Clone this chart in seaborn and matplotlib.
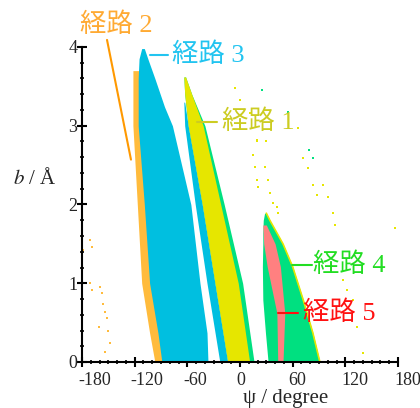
'''
    psi-b map of the five reaction paths
'''
import matplotlib
matplotlib.use('Agg')
import matplotlib.pyplot as plt
import seaborn as sns
import pandas as pd
from matplotlib.ticker import MultipleLocator
from matplotlib.transforms import ScaledTranslation

# ---- region outlines (psi at the left / right edge for each b) ----
# path 2 (orange stripe)
b_p2 = [0, 0.37, 1, 2, 3, 3.7]
left_p2 = [-97, -103, -112, -117, -122, -122]
right_p2 = [-86, -90, -100, -105, -112, -114]

# path 3 (cyan, main lobe)
b_p3 = [0, 0.37, 1, 2, 3, 3.24, 3.6, 3.85, 3.98]
left_p3 = [-89, -93.5, -103, -109, -116, -116, -116, -115, -112]
right_p3 = [-36.5, -37.6, -45.6, -56, -77, -86, -97, -105, -109]

# path 3 (cyan, thin strip next to path 1)
b_p3s = [0, 1, 2, 3, 3.3]
left_p3s = [-23, -37.6, -51, -63, -64]
right_p3s = [-14, -28.5, -43, -59, -63]

# path 1 (yellow)
b_p1 = [0, 1, 2, 3, 3.4, 3.62]
left_p1 = [-14, -28.5, -43, -59, -63, -64]
right_p1 = [11, -2, -22, -42, -55, -62]
fringe_p1 = [16, 3, -18, -40, -55, -62]

# path 4 (green)
b_p4 = [0, 0.37, 0.79, 1.21, 1.5, 1.64, 1.8, 1.89]
left_p4 = [32, 29, 26, 25.5, 26, 26, 26.5, 28]
right_p4 = [91, 83, 72, 60, 49, 42, 34, 30]

# path 5 (pink)
b_p5 = [0, 0.62, 1.21, 1.5, 1.74]
left_p5 = [43, 42, 31, 27, 26]
right_p5 = [49, 51, 46, 40, 30]

# ---- scattered points ----
psi_yel = [-5.7, 0, 11.4, 19.5, 19.5, 15, 17, 19.5, 20.5, 32, 34, 37.6, 28.5, 29.6,
           66, 71.8, 77.5, 83, 87.7, 94.5, 100, 106, 108, 117, 122, 129, 133, 140,
           42, 43, 176.6]
b_yel = [3.48, 3.33, 3.16, 2.82, 2.8, 2.63, 2.48, 2.31, 2.22, 2.31, 2.15, 2.02, 2.48, 2.8,
         2.97, 2.59, 2.46, 2.25, 2.12, 2.25, 2.1, 1.89, 1.74, 1.04, 0.91, 0.79, 0.44, 0.11,
         1.97, 1.89, 1.70]
psi_grn = [25, 54.7, 78.6, 83]
b_grn = [3.45, 3.17, 2.69, 2.59]
psi_org = [-179, -171, -169, -171, -169, -159.5, -157, -156, -154, -151.5, -150, -148,
           -160.6, -154]
b_org = [1.42, 1.55, 1.46, 1.0, 0.91, 0.95, 0.87, 0.74, 0.64, 0.56, 0.4, 0.24, 0.45, 0.13]

# ---- labels ----
labels = ['経路 1', '経路 2', '経路 3', '経路 4', '経路 5']
label_psi = [-20.5, -182, -77.5, 83, 72]
label_b = [3.05, 4.28, 3.9, 1.23, 0.62]
label_col = ['#cccc22', '#ffaa33', '#22c4f0', '#22dd22', '#ff1111']
line_psi = [(-49, -26), (-151.5, -124.2), (-102.5, -82), (59, 82), (43, 66)]
line_b = [(3.05, 3.05), (4.09, 2.57), (3.9, 3.9), (1.23, 1.23), (0.62, 0.62)]
line_col = ['#cccc22', '#ff9900', '#22c4f0', '#22dd22', '#ff1111']

ORANGE = '#ffbb3c'
CYAN = '#00bfe0'
YELLOW = '#e6e600'
GREEN = '#00e080'
PINK = '#ff8080'

sns.set_style('ticks')
plt.rcParams['font.family'] = ['Liberation Serif', 'Noto Sans CJK JP']
plt.rcParams['mathtext.fontset'] = 'stix'
plt.rcParams['axes.unicode_minus'] = False

fig = plt.figure(figsize=(4.2, 4.08), dpi=100)
ax = fig.add_axes([82 / 420, 46 / 408, 316 / 420, 315 / 408])

# regions
ax.fill_betweenx(b_p2, left_p2, right_p2, color=ORANGE, lw=0)
ax.fill_betweenx(b_p3, left_p3, right_p3, color=CYAN, lw=0)
ax.fill_betweenx(b_p1, left_p1, fringe_p1, color=GREEN, lw=0)
ax.fill_betweenx(b_p3s, left_p3s, right_p3s, color=CYAN, lw=0)
ax.fill_betweenx(b_p1, left_p1, right_p1, color=YELLOW, lw=0)
ax.fill_betweenx(b_p4, left_p4, right_p4, color=GREEN, lw=0)
ax.plot(right_p4, b_p4, color=YELLOW, lw=1.2)
ax.fill_betweenx(b_p5, left_p5, right_p5, color=PINK, lw=0)

# stray points
df_y = pd.DataFrame({'psi': psi_yel, 'b': b_yel})
df_g = pd.DataFrame({'psi': psi_grn, 'b': b_grn})
df_o = pd.DataFrame({'psi': psi_org, 'b': b_org})
sns.scatterplot(data=df_y, x='psi', y='b', color=YELLOW, s=4, marker='s', linewidth=0, ax=ax)
sns.scatterplot(data=df_g, x='psi', y='b', color=GREEN, s=4, marker='s', linewidth=0, ax=ax)
sns.scatterplot(data=df_o, x='psi', y='b', color=ORANGE, s=2.5, marker='s', linewidth=0, ax=ax)

# path labels with leader lines
for i in range(len(labels)):
    ax.plot(line_psi[i], line_b[i], color=line_col[i], lw=1.5, clip_on=False)
    ax.text(label_psi[i], label_b[i], labels[i], color=label_col[i], fontsize=19,
            ha='left', va='center', clip_on=False)

ax.set_xlim(-180, 180)
ax.set_ylim(0, 4)
ax.set_xticks([-180, -120, -60, 0, 60, 120, 180])
ax.set_yticks([0, 1, 2, 3, 4])
ax.xaxis.set_minor_locator(MultipleLocator(10))
ax.yaxis.set_minor_locator(MultipleLocator(0.2))
ax.tick_params(which='major', direction='inout', length=7, width=1.5, labelsize=13, color='black')
ax.tick_params(which='minor', direction='inout', length=3.5, width=1.2, color='black')
ax.tick_params(axis='x', which='major', pad=4)
ax.tick_params(axis='y', which='major', pad=0)
for s in ['left', 'bottom']:
    ax.spines[s].set_linewidth(1.5)
    ax.spines[s].set_color('black')
sns.despine(ax=ax)

# x tick labels sit just right of their ticks, as in the original
shift = ScaledTranslation(-0.04, 0, fig.dpi_scale_trans)
for lbl in ax.get_xticklabels():
    lbl.set_ha('left')
    lbl.set_transform(lbl.get_transform() + shift)

ax.set_xlabel('ψ / degree', fontsize=15)
ax.xaxis.set_label_coords(0.645, -0.085)
ax.set_ylabel('$b$ / Å', fontsize=15, rotation=0, ha='center', va='center')
ax.yaxis.set_label_coords(-0.149, 0.584)

fig.savefig('out.png', dpi=100, facecolor='white')
